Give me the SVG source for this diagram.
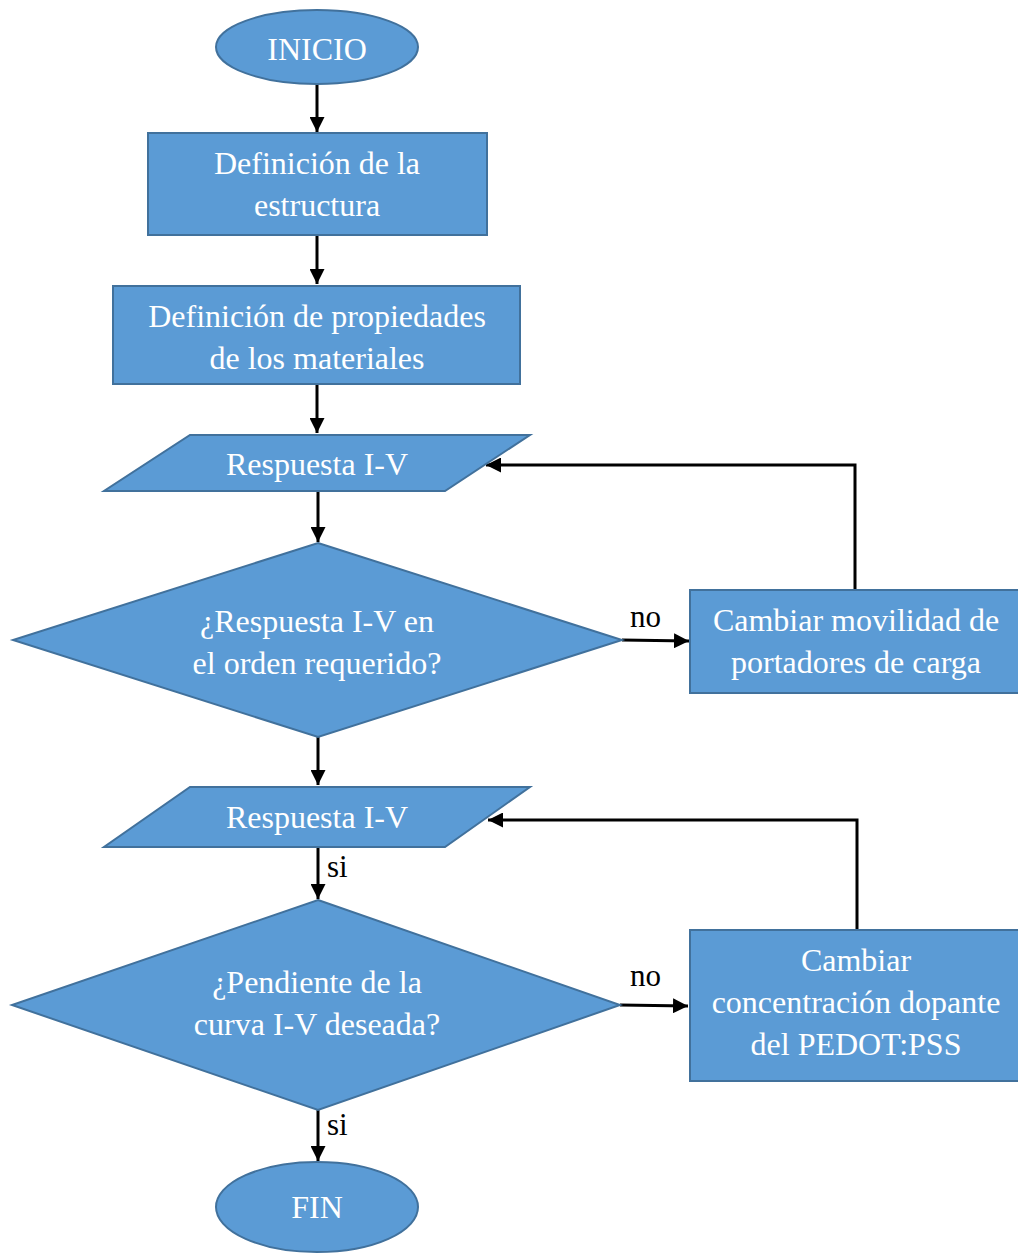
<svg xmlns="http://www.w3.org/2000/svg" width="1018" height="1253" viewBox="0 0 1018 1253">
  <style>
    .shape { fill: #5B9BD5; stroke: #41719C; stroke-width: 2; }
    .label { font-family: "Liberation Serif", "Times New Roman", serif; font-size: 32px; fill: #FFFFFF; text-anchor: middle; }
    .note { font-family: "Liberation Serif", "Times New Roman", serif; font-size: 31px; fill: #000000; }
    .link { fill: none; stroke: #000000; stroke-width: 3; }
  </style>
  <defs>
    <marker id="arrow" viewBox="0 0 10 10" refX="10" refY="5" markerWidth="5" markerHeight="5" markerUnits="strokeWidth" orient="auto">
      <path d="M0,0 L10,5 L0,10 Z" fill="#000000"/>
    </marker>
  </defs>
  <rect width="1018" height="1253" fill="#FFFFFF"/>

  <g id="connectors">
    <line class="link" x1="317" y1="84" x2="317" y2="132" marker-end="url(#arrow)"/>
    <line class="link" x1="317" y1="235" x2="317" y2="284" marker-end="url(#arrow)"/>
    <line class="link" x1="317" y1="384" x2="317" y2="433" marker-end="url(#arrow)"/>
    <line class="link" x1="318" y1="491" x2="318" y2="542" marker-end="url(#arrow)"/>
    <line class="link" x1="622" y1="640" x2="689" y2="641" marker-end="url(#arrow)"/>
    <polyline class="link" points="855,590 855,465 486,465" marker-end="url(#arrow)"/>
    <line class="link" x1="318" y1="737" x2="318" y2="785" marker-end="url(#arrow)"/>
    <line class="link" x1="318" y1="847" x2="318" y2="899" marker-end="url(#arrow)"/>
    <line class="link" x1="620" y1="1005" x2="688" y2="1006" marker-end="url(#arrow)"/>
    <polyline class="link" points="857,930 857,820 488,820" marker-end="url(#arrow)"/>
    <line class="link" x1="318" y1="1110" x2="318" y2="1161" marker-end="url(#arrow)"/>
    <text class="note" x="630" y="627">no</text>
    <text class="note" x="630" y="986">no</text>
    <text class="note" x="327" y="877">si</text>
    <text class="note" x="327" y="1135">si</text>
  </g>

  <g id="inicio">
    <ellipse class="shape" cx="317" cy="47" rx="101" ry="37"/>
    <text class="label" x="317" y="60">INICIO</text>
  </g>

  <g id="estructura">
    <rect class="shape" x="148" y="133" width="339" height="102"/>
    <text class="label" x="317" y="174">Definición de la</text>
    <text class="label" x="317" y="216">estructura</text>
  </g>

  <g id="materiales">
    <rect class="shape" x="113" y="286" width="407" height="98"/>
    <text class="label" x="317" y="327">Definición de propiedades</text>
    <text class="label" x="317" y="369">de los materiales</text>
  </g>

  <g id="respuesta1">
    <polygon class="shape" points="190,435 530,435 445,491 104,491"/>
    <text class="label" x="317" y="475">Respuesta I-V</text>
  </g>

  <g id="decision1">
    <polygon class="shape" points="318,543 622,640 318,737 13,640"/>
    <text class="label" x="317" y="632">¿Respuesta I-V en</text>
    <text class="label" x="317" y="674">el orden requerido?</text>
  </g>

  <g id="movilidad">
    <rect class="shape" x="690" y="590" width="330" height="103"/>
    <text class="label" x="856" y="631">Cambiar movilidad de</text>
    <text class="label" x="856" y="673">portadores de carga</text>
  </g>

  <g id="respuesta2">
    <polygon class="shape" points="190,787 530,787 445,847 104,847"/>
    <text class="label" x="317" y="828">Respuesta I-V</text>
  </g>

  <g id="decision2">
    <polygon class="shape" points="318,900 620,1005 318,1110 12,1005"/>
    <text class="label" x="317" y="993">¿Pendiente de la</text>
    <text class="label" x="317" y="1035">curva I-V deseada?</text>
  </g>

  <g id="dopante">
    <rect class="shape" x="690" y="930" width="330" height="151"/>
    <text class="label" x="856" y="971">Cambiar</text>
    <text class="label" x="856" y="1013">concentración dopante</text>
    <text class="label" x="856" y="1055">del PEDOT:PSS</text>
  </g>

  <g id="fin">
    <ellipse class="shape" cx="317" cy="1207" rx="101" ry="45"/>
    <text class="label" x="317" y="1218">FIN</text>
  </g>
</svg>
